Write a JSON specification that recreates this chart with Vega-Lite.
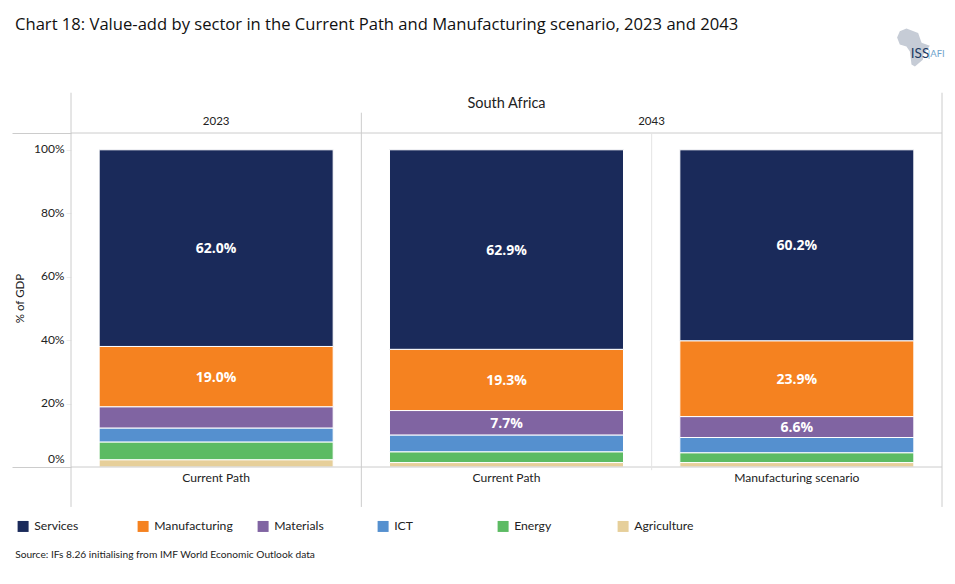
{
"$schema":"https://vega.github.io/schema/vega-lite/v6.json",
"width":871,"height":334,
"autosize":{"type":"none"},
"padding":{"left":71,"top":133,"right":13,"bottom":117},
"background":"white",
"title":{"text":"Chart 18: Value-add by sector in the Current Path and Manufacturing scenario, 2023 and 2043","anchor":"start","frame":"group","dx":-56,"offset":-5,"font":"Open Sans","fontSize":16.6,"fontWeight":"normal","color":"#111111"},
"config":{"view":{"stroke":null},"font":"Lato","legend":{"gridAlign":"all"}},
"datasets":{"sectors":[
{"key":"2023 Current Path","sector":"Agriculture","rank":1,"value":2.3,"label":""},
{"key":"2023 Current Path","sector":"Energy","rank":2,"value":5.6,"label":""},
{"key":"2023 Current Path","sector":"ICT","rank":3,"value":4.4,"label":""},
{"key":"2023 Current Path","sector":"Materials","rank":4,"value":6.7,"label":""},
{"key":"2023 Current Path","sector":"Manufacturing","rank":5,"value":19.0,"label":"19.0%"},
{"key":"2023 Current Path","sector":"Services","rank":6,"value":62.0,"label":"62.0%"},
{"key":"2043 Current Path","sector":"Agriculture","rank":1,"value":1.4,"label":""},
{"key":"2043 Current Path","sector":"Energy","rank":2,"value":3.4,"label":""},
{"key":"2043 Current Path","sector":"ICT","rank":3,"value":5.3,"label":""},
{"key":"2043 Current Path","sector":"Materials","rank":4,"value":7.7,"label":"7.7%"},
{"key":"2043 Current Path","sector":"Manufacturing","rank":5,"value":19.3,"label":"19.3%"},
{"key":"2043 Current Path","sector":"Services","rank":6,"value":62.9,"label":"62.9%"},
{"key":"2043 Manufacturing scenario","sector":"Agriculture","rank":1,"value":1.4,"label":""},
{"key":"2043 Manufacturing scenario","sector":"Energy","rank":2,"value":3.1,"label":""},
{"key":"2043 Manufacturing scenario","sector":"ICT","rank":3,"value":4.8,"label":""},
{"key":"2043 Manufacturing scenario","sector":"Materials","rank":4,"value":6.6,"label":"6.6%"},
{"key":"2043 Manufacturing scenario","sector":"Manufacturing","rank":5,"value":23.9,"label":"23.9%"},
{"key":"2043 Manufacturing scenario","sector":"Services","rank":6,"value":60.2,"label":"60.2%"}
]},
"data":{"name":"sectors"},
"layer":[
{"mark":{"type":"bar","width":{"band":0.806},"stroke":"white","strokeWidth":1},
 "encoding":{
  "x":{"field":"key","type":"nominal","sort":null,"scale":{"domain":["2023 Current Path","2043 Current Path","2043 Manufacturing scenario"],"paddingInner":0,"paddingOuter":0},
   "axis":{"title":null,"labelAngle":0,"domain":false,"ticks":false,"labelPadding":4,"labelFont":"Lato","labelFontSize":12.1,"labelColor":"#222222","labelExpr":"replace(replace(datum.label,'2023 ',''),'2043 ','')"}},
  "y":{"field":"value","type":"quantitative","stack":"zero","scale":{"domain":[0,105.3],"nice":false,"zero":false},
   "axis":{"title":"% of GDP","titleFont":"Lato","titleFontSize":11.5,"titleFontWeight":"normal","titleColor":"#222222","titleX":-46,"titleY":165,
    "values":[0,20,40,60,80,100,105.3],"grid":false,"domain":false,
    "labelExpr":"datum.value>101?'':datum.value+'%'","labelFont":"Lato","labelFontSize":12,"labelColor":"#222222",
    "labelPadding":{"condition":{"test":"datum.value===0||datum.value>101","value":-52},"value":2},
    "tickSize":{"condition":{"test":"datum.value===0||datum.value>101","value":59},"value":5},
    "tickColor":{"condition":{"test":"datum.value===0||datum.value>101","value":"#cccccc"},"value":"#eeeeee"},
    "labelOffset":{"condition":{"test":"datum.value===0","value":-9},"value":-1}}},
  "color":{"field":"sector","type":"nominal","scale":{"domain":["Services","Manufacturing","Materials","ICT","Energy","Agriculture"],"range":["#1a2a5a","#f58220","#8064a2","#5590cf","#5cbb63","#e6cf9a"]},
   "legend":{"title":null,"orient":"none","legendX":-54,"legendY":387,"columns":6,"symbolType":"square","symbolSize":121,"symbolStrokeWidth":0,"labelFont":"Lato","labelFontSize":12.2,"labelColor":"#222222","labelOffset":5,"columnPadding":24}},
  "order":{"field":"rank","type":"quantitative"}}},
{"mark":{"type":"text","color":"white","fontWeight":"bold","font":"Open Sans","fontSize":14,"dy":1},
 "encoding":{
  "x":{"field":"key","type":"nominal"},
  "y":{"field":"value","type":"quantitative","stack":"zero","bandPosition":0.5},
  "order":{"field":"rank","type":"quantitative"},
  "detail":{"field":"sector"},
  "text":{"field":"label"}}},
{"data":{"values":[{"y":0},{"y":105.3}]},"mark":{"type":"rule","color":"#cccccc","strokeWidth":1},"encoding":{"y":{"field":"y","type":"quantitative"}}},
{"data":{"values":[{"key":"2023 Current Path","top":118,"bottom":-12.6},{"key":"2043 Current Path","top":111.7,"bottom":-12.6}]},
 "mark":{"type":"rule","color":"#cccccc","strokeWidth":1},
 "encoding":{"x":{"field":"key","type":"nominal","bandPosition":0},"y":{"field":"top","type":"quantitative"},"y2":{"field":"bottom"}}},
{"data":{"values":[{"key":"2043 Manufacturing scenario","top":118,"bottom":-12.6}]},
 "mark":{"type":"rule","color":"#cccccc","strokeWidth":1},
 "encoding":{"x":{"field":"key","type":"nominal","bandPosition":1},"y":{"field":"top","type":"quantitative"},"y2":{"field":"bottom"}}},
{"data":{"values":[{"key":"2043 Manufacturing scenario","top":105.3,"bottom":-1}]},
 "mark":{"type":"rule","color":"#e4e4e4","strokeWidth":1},
 "encoding":{"x":{"field":"key","type":"nominal","bandPosition":0},"y":{"field":"top","type":"quantitative"},"y2":{"field":"bottom"}}},
{"data":{"values":[{"t":"South Africa","key":"2043 Current Path","y":114.6}]},
 "mark":{"type":"text","font":"Lato","fontSize":14.5,"color":"#222222"},
 "encoding":{"x":{"field":"key","type":"nominal"},"y":{"field":"y","type":"quantitative"},"text":{"field":"t"}}},
{"data":{"values":[{"t":"2023","key":"2023 Current Path","y":108.7}]},
 "mark":{"type":"text","font":"Lato","fontSize":11.5,"color":"#222222"},
 "encoding":{"x":{"field":"key","type":"nominal"},"y":{"field":"y","type":"quantitative"},"text":{"field":"t"}}},
{"data":{"values":[{"t":"2043","key":"2043 Current Path","y":108.7}]},
 "mark":{"type":"text","font":"Lato","fontSize":11.5,"color":"#222222","dx":145},
 "encoding":{"x":{"field":"key","type":"nominal"},"y":{"field":"y","type":"quantitative"},"text":{"field":"t"}}},
{"data":{"values":[{"t":"Source: IFs 8.26 initialising from IMF World Economic Outlook data","key":"2023 Current Path","y":-27.7}]},
 "mark":{"type":"text","font":"Lato","fontSize":10.2,"color":"#222222","align":"left","dx":-201},
 "encoding":{"x":{"field":"key","type":"nominal"},"y":{"field":"y","type":"quantitative"},"text":{"field":"t"}}},
{"data":{"values":[{"key":"2043 Manufacturing scenario","y":132.2}]},
 "mark":{"type":"point","filled":true,"color":"#c6ccd6","opacity":1,"size":1296,
  "shape":"M5.72,-0.91 L6.09,-1.06 L6.74,-0.82 L6.93,-0.28 L7.39,-0.11 L7.02,0.39 L7,0.67 L6.56,1.04 L6.37,0.94 L6.28,0.21 L6.09,-0.07 L5.72,-0.17 L5.57,-0.56 Z"},
 "encoding":{"x":{"field":"key","type":"nominal"},"y":{"field":"y","type":"quantitative"}}},
{"data":{"values":[{"t":"ISS","key":"2043 Manufacturing scenario","y":130.2}]},
 "mark":{"type":"text","font":"Lato","fontSize":13.5,"color":"#1a3a63","align":"left","dx":114},
 "encoding":{"x":{"field":"key","type":"nominal"},"y":{"field":"y","type":"quantitative"},"text":{"field":"t"}}},
{"data":{"values":[{"t":"|AFI","key":"2043 Manufacturing scenario","y":130.2}]},
 "mark":{"type":"text","font":"Lato","fontSize":9.5,"color":"#6fa3cc","align":"left","dx":131},
 "encoding":{"x":{"field":"key","type":"nominal"},"y":{"field":"y","type":"quantitative"},"text":{"field":"t"}}}
]
}
